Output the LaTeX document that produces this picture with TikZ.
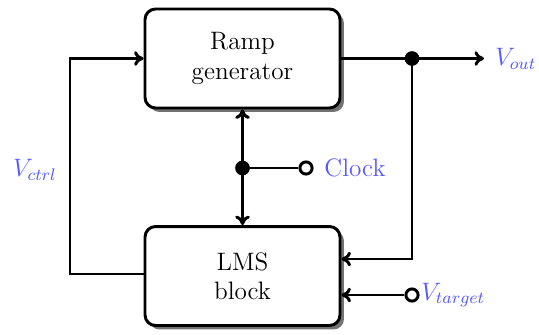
\documentclass[tikz,border=0pt]{standalone}
\usetikzlibrary{shadows,calc,arrows.meta}
\definecolor{lbl}{RGB}{88,88,255}
\begin{document}
\begin{tikzpicture}[x=0.476pt,y=-0.476pt, line width=1.4pt, >={To[length=4.5pt,width=7pt]},
  blk/.style={draw, rectangle, rounded corners=5pt, fill=white, minimum width=92.8pt, minimum height=47.1pt,
    align=center, font=\large,
    drop shadow={shadow xshift=1.9pt, shadow yshift=-1.9pt, fill=black!55, opacity=1}},
  lab/.style={text=lbl, font=\large, inner sep=0pt},
  dot/.style={circle, fill=black, inner sep=0pt, minimum size=7pt},
  port/.style={circle, draw, fill=white, line width=1.4pt, inner sep=0pt, minimum size=5.8pt}]
\useasboundingbox (0,0) rectangle (539,334);
\node[blk] (ramp) at (242.5,58.5) {Ramp\\generator};
\node[blk] (lms) at (242.5,276) {LMS\\block};
% output
\coordinate (j1) at (412,58.5);
\coordinate (out) at (484,58.5);
\draw[->] (ramp.east) -- (out);
\node[lab, anchor=west] (vout) at (494,58.5) {$V_{out}$};
\coordinate (l1) at ($(lms.east)+(0,-17)$);
\draw[->] (j1) |- (l1);
\node[dot] (d1) at (j1) {};
% target
\node[port] (vt) at (412,295) {};
\draw[->] (vt) -- (lms.east |- vt);
\node[lab, anchor=west] (vtl) at (420,295) {$V_{target}$};
% feedback
\coordinate (c1) at (70,58.5);
\coordinate (c2) at (70,274);
\draw[->] (lms.west |- c2) -- (c2) -- (c1) -- (ramp.west);
\node[lab] (vctrl) at (35,170) {$V_{ctrl}$};
% middle
\coordinate (mid) at (242.5,168);
\draw[<->] (ramp.south) -- (lms.north);
\node[port] (clk) at (306,168) {};
\draw (mid) -- (clk);
\node[dot] (d2) at (mid) {};
\node[lab, anchor=west] (clkl) at (323,168) {Clock};
\end{tikzpicture}
\end{document}
